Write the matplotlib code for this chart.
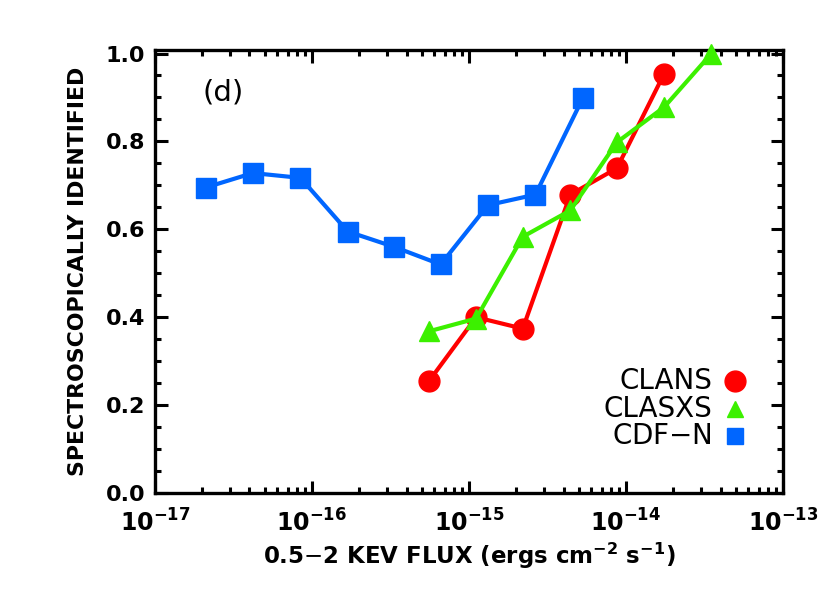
import matplotlib
matplotlib.use("Agg")
import matplotlib.pyplot as plt
from matplotlib.ticker import MultipleLocator, LogLocator, NullFormatter

# Data
cdfn_flux = [2.1e-17, 4.2e-17, 8.45e-17, 1.69e-16, 3.34e-16, 6.6e-16, 1.32e-15, 2.65e-15, 5.3e-15]
cdfn_frac = [0.695, 0.728, 0.717, 0.595, 0.56, 0.52, 0.655, 0.679, 0.898]

clans_flux = [5.57e-16, 1.11e-15, 2.2e-15, 4.42e-15, 8.75e-15, 1.75e-14]
clans_frac = [0.255, 0.40, 0.374, 0.679, 0.739, 0.954]

clasxs_flux = [5.57e-16, 1.11e-15, 2.2e-15, 4.42e-15, 8.75e-15, 1.75e-14, 3.5e-14]
clasxs_frac = [0.368, 0.397, 0.583, 0.643, 0.798, 0.878, 1.0]

xticks = [1e-17, 1e-16, 1e-15, 1e-14, 1e-13]
xticklabels = [r"$\mathbf{10^{-17}}$", r"$\mathbf{10^{-16}}$", r"$\mathbf{10^{-15}}$",
               r"$\mathbf{10^{-14}}$", r"$\mathbf{10^{-13}}$"]
yticks = [0.0, 0.2, 0.4, 0.6, 0.8, 1.0]

BLUE = "#0066ff"
RED = "#ff0000"
GREEN = "#3cf000"

fig = plt.figure(figsize=(8.30, 5.93), dpi=100)
ax = fig.add_axes([0.1867, 0.1686, 0.9434 - 0.1867, 0.9157 - 0.1686])

ax.plot(cdfn_flux, cdfn_frac, color=BLUE, lw=3, marker="s", ms=14.5, mec=BLUE, zorder=3)
ax.plot(clans_flux, clans_frac, color=RED, lw=3, marker="o", ms=15, mec=RED, zorder=4)
ax.plot(clasxs_flux, clasxs_frac, color=GREEN, lw=3, marker="^", ms=15, mec=GREEN, zorder=5, clip_on=False)

ax.set_xscale("log")
ax.set_xlim(1e-17, 1e-13)
ax.set_ylim(0.0, 1.008)

ax.set_xticks(xticks)
ax.set_xticklabels(xticklabels, fontsize=17)
ax.xaxis.set_minor_locator(LogLocator(base=10, subs=range(2, 10), numticks=20))
ax.xaxis.set_minor_formatter(NullFormatter())
ax.set_yticks(yticks)
ax.set_yticklabels([f"{v:.1f}" for v in yticks], fontsize=16, fontweight="bold")
ax.yaxis.set_minor_locator(MultipleLocator(0.05))

ax.tick_params(which="both", direction="in", top=True, right=True, width=2.2, color="black")
ax.tick_params(which="major", length=9, pad=7)
ax.tick_params(which="minor", length=4.5)
ax.tick_params(axis="x", which="major", pad=12)
for s in ax.spines.values():
    s.set_linewidth(2.4)

ax.set_xlabel(r"0.5$-$2 KEV FLUX (ergs cm$^{\mathbf{-2}}$ s$^{\mathbf{-1}}$)",
              fontsize=16.5, fontweight="bold", labelpad=3)
ax.set_ylabel("SPECTROSCOPICALLY IDENTIFIED", fontsize=15.8, fontweight="bold",
              family=["Liberation Sans Narrow", "DejaVu Sans"], labelpad=13)

ax.text(0.075, 0.905, "(d)", transform=ax.transAxes, fontsize=21, ha="left", va="center")

# Legend (text + marker)
leg_labels = ["CLANS", "CLASXS", "CDF$-$N"]
leg_colors = [RED, GREEN, BLUE]
leg_markers = ["o", "^", "s"]
leg_sizes = [15, 12, 11]
leg_y = [0.253, 0.19, 0.128]
for lab, c, m, sz, yy in zip(leg_labels, leg_colors, leg_markers, leg_sizes, leg_y):
    ax.text(0.887, yy, lab, transform=ax.transAxes, fontsize=20, ha="right", va="center",
            family=["Liberation Sans Narrow", "DejaVu Sans"])
    ax.plot([0.923], [yy], transform=ax.transAxes, marker=m, ms=sz, color=c, mec=c, ls="none")

fig.savefig("out.png", dpi=100)
